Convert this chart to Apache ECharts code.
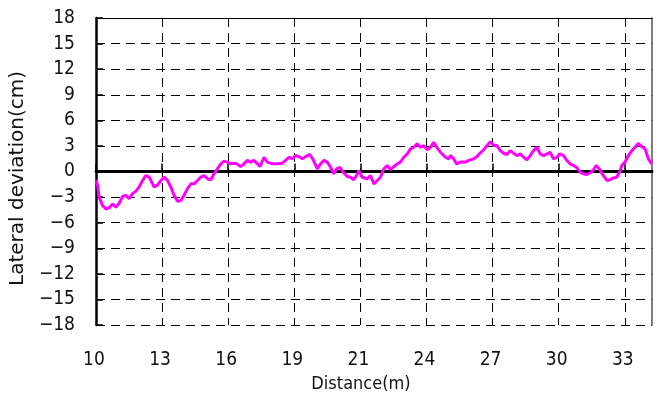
<!DOCTYPE html>
<html>
<head>
<meta charset="utf-8">
<script src="https://cdn.jsdelivr.net/npm/echarts@6/dist/echarts.min.js"></script>
<style>
html,body{margin:0;padding:0;background:#fff;}
#chart{width:664px;height:401px;}
</style>
</head>
<body>
<div id="chart"></div>
<script>
// Distance along the run (m)
var distance = [
10.00,10.07,10.14,10.29,10.44,10.58,10.73,10.87,11.02,11.17,11.31,11.45,11.60,11.75,11.89,12.04,12.18,12.33,12.40,12.54,
12.69,12.84,12.98,13.13,13.27,13.42,13.57,13.71,13.85,14.00,14.15,14.29,14.44,14.58,14.73,14.88,15.02,15.16,15.31,15.46,
15.60,15.75,15.89,16.11,16.33,16.47,16.62,16.77,16.91,17.06,17.17,17.35,17.49,17.71,17.93,18.15,18.29,18.44,18.59,18.73,
18.87,19.02,19.17,19.35,19.50,19.68,19.82,19.97,20.11,20.26,20.40,20.52,20.66,20.81,20.99,21.13,21.27,21.39,21.49,21.64,
21.86,22.00,22.15,22.30,22.44,22.58,22.73,22.88,22.99,23.17,23.31,23.46,23.61,23.75,23.89,24.04,24.19,24.33,24.48,24.62,
24.77,24.88,25.06,25.28,25.42,25.50,25.64,25.76,25.93,26.15,26.30,26.51,26.66,26.81,26.95,27.10,27.24,27.39,27.53,27.68,
27.82,27.97,28.11,28.26,28.41,28.55,28.70,28.84,28.99,29.13,29.28,29.42,29.57,29.72,29.86,30.00,30.15,30.29,30.44,30.59,
30.73,30.88,31.03,31.17,31.31,31.46,31.61,31.75,31.87,32.01,32.16,32.34,32.48,32.62,32.77,32.92,32.99,33.13,33.28,33.43,
33.57,33.71,33.86,34.01,34.15,34.30
];
// Lateral deviation (cm)
var deviation = [
-1.0,-1.6,-3.0,-4.0,-4.4,-4.25,-3.8,-4.2,-3.7,-2.9,-2.8,-3.2,-2.6,-2.3,-1.8,-1.05,-0.47,-0.67,-1.05,-1.8,
-1.6,-1.05,-0.67,-1.05,-1.8,-2.8,-3.5,-3.4,-2.8,-2.0,-1.45,-1.45,-1.05,-0.67,-0.47,-0.85,-0.97,-0.27,0.3,0.9,
1.2,1.1,0.9,0.97,0.58,0.9,1.3,1.1,1.3,0.9,0.58,1.67,1.1,0.9,0.9,0.97,1.3,1.67,1.5,1.87,
1.75,1.5,1.75,2.0,1.37,0.3,0.9,1.3,1.1,0.5,-0.27,0.3,0.5,-0.08,-0.58,-0.67,-0.97,-0.47,0.1,-0.67,
-0.85,-0.47,-1.45,-1.05,-0.67,0.3,0.7,0.2,0.5,0.9,1.1,1.67,2.07,2.65,2.84,3.24,2.84,3.04,2.54,2.84,
3.42,2.92,2.26,1.67,1.48,1.87,1.48,0.9,1.1,1.1,1.3,1.48,1.75,2.2,2.55,3.04,3.5,3.04,3.04,2.45,
2.14,1.99,2.45,2.14,1.87,2.07,1.67,1.37,1.87,2.45,2.84,2.07,1.87,2.07,2.26,1.48,1.67,2.07,1.87,1.29,
0.9,0.7,0.43,-0.08,-0.27,-0.35,-0.15,0.2,0.7,0.3,-0.4,-1.05,-0.97,-0.75,-0.67,0.1,0.7,1.1,1.87,2.45,
2.84,3.3,2.92,2.65,1.48,0.9
];
// X tick positions (m) and their printed labels
var xTickValues = [10, 12.89, 15.78, 18.67, 21.56, 24.45, 27.34, 30.23, 33.12];
var xTickLabels = ['10','13','16','19','21','24','27','30','33'];
var xMin = 10, xMax = 34.31;
var yMin = -18, yMax = 18, yStep = 3;

var seriesData = distance.map(function (d, i) { return [d, deviation[i]]; });

var FONT = "'DejaVu Sans Condensed','Liberation Sans Narrow',sans-serif";
var chart = echarts.init(document.getElementById('chart'), null, {renderer: 'canvas'});

function xLabel(v) {
  for (var i = 0; i < xTickValues.length; i++) {
    if (Math.abs(xTickValues[i] - v) < 1e-6) return xTickLabels[i];
  }
  return '';
}

chart.setOption({
  animation: false,
  backgroundColor: '#fff',
  grid: {left: 94, right: 12, top: 18, bottom: 76, containLabel: false},
  xAxis: [
    {
      type: 'value', position: 'bottom', min: xMin, max: xMax,
      name: 'Distance(m)', nameLocation: 'middle', nameGap: 47,
      nameTextStyle: {fontFamily: FONT, fontSize: 18, color: '#111', padding: [0, 26, 0, 0]},
      axisLine: {show: false, onZero: false},
      axisTick: {show: false, customValues: xTickValues},
      axisLabel: {customValues: xTickValues, formatter: xLabel, margin: 26,
        fontFamily: FONT, fontSize: 19, color: '#111', padding: [0, 4, 0, 0]},
      splitLine: {show: true, lineStyle: {color: '#000', type: [9, 6], width: 1}}
    },
    {
      type: 'value', position: 'bottom', min: xMin, max: xMax,
      axisLine: {show: true, onZero: true, lineStyle: {color: '#000', width: 2.8}},
      axisTick: {show: true, inside: true, length: 8, customValues: xTickValues,
        lineStyle: {color: '#000', width: 1.5}},
      axisLabel: {show: false},
      splitLine: {show: false}
    },
    {
      type: 'value', position: 'top', min: xMin, max: xMax,
      axisLine: {show: true, onZero: false, lineStyle: {color: '#000', width: 1.2}},
      axisTick: {show: false}, axisLabel: {show: false}, splitLine: {show: false}
    }
  ],
  yAxis: [
    {
      type: 'value', position: 'left', min: yMin, max: yMax, interval: yStep,
      name: 'Lateral deviation(cm)', nameLocation: 'middle', nameGap: 59,
      nameTextStyle: {fontFamily: "'DejaVu Sans',sans-serif", fontSize: 20, color: '#111', padding: [0, 14, 0, 0]},
      axisLine: {show: true, onZero: false, lineStyle: {color: '#000', width: 2.5}},
      axisTick: {show: true, inside: true, length: 7, lineStyle: {color: '#000', width: 1.5}},
      axisLabel: {margin: 21, fontFamily: FONT, fontSize: 19, color: '#111', padding: [4, 0, 0, 0],
        formatter: function (v) { return String(v).replace('-', '\u2212'); }},
      splitLine: {show: true, lineStyle: {color: '#000', type: [9, 6], width: 1}}
    },
    {
      type: 'value', position: 'right', min: yMin, max: yMax, interval: yStep,
      axisLine: {show: true, onZero: false, lineStyle: {color: '#555', width: 1.5}},
      axisTick: {show: false}, axisLabel: {show: false}, splitLine: {show: false}
    }
  ],
  series: [{
    type: 'line',
    xAxisIndex: 0, yAxisIndex: 0,
    data: seriesData,
    showSymbol: false,
    symbol: 'none',
    lineStyle: {color: '#ff00ff', width: 3},
    z: 5
  }]
});
</script>
</body>
</html>
